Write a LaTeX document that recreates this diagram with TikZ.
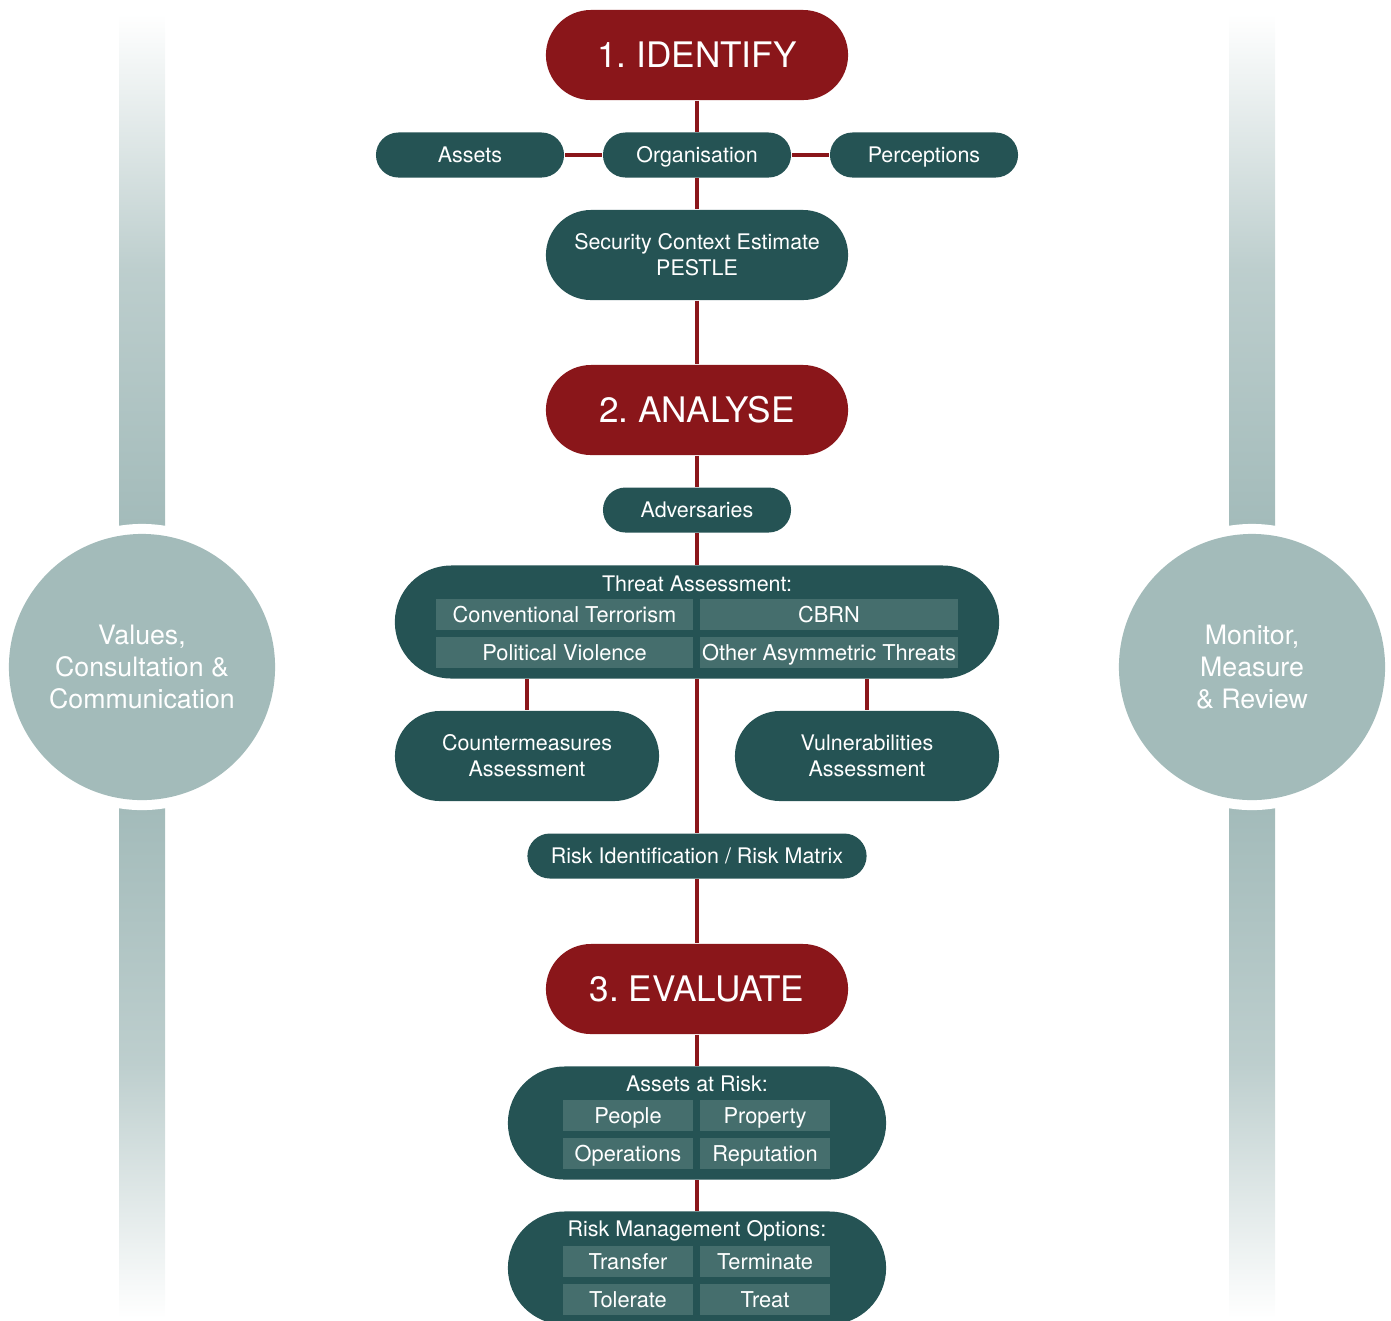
\documentclass[tikz,border=0pt]{standalone}
\usepackage{fontspec}
\setmainfont{TeX Gyre Heros}
\usetikzlibrary{backgrounds}

\definecolor{riskred}{HTML}{8A161A}
\definecolor{riskteal}{HTML}{255354}
\definecolor{riskcell}{HTML}{456E6D}
\definecolor{riskgrey}{HTML}{A3BBBA}

\begin{document}
\frenchspacing
\begin{tikzpicture}[x=0.01cm, y=-0.01cm,
	stagebox/.style={fill=riskred, text=white, rounded corners=0.45cm, minimum width=3.02cm, minimum height=0.9cm, inner sep=0pt, text height=7.2pt, text depth=0pt, font=\fontsize{10}{12}\selectfont},
	itembox/.style={fill=riskteal, text=white, rounded corners=0.225cm, minimum width=1.88cm, minimum height=0.45cm, inner sep=0pt, text height=4.4pt, text depth=0pt, font=\fontsize{6.1}{7.4}\selectfont},
	bigbox/.style={fill=riskteal, text=white, rounded corners=0.45cm, minimum height=0.9cm, inner sep=0pt, align=center, font=\fontsize{6.1}{7.4}\selectfont},
	groupbox/.style={fill=riskteal, rounded corners=0.565cm, minimum height=1.13cm, inner sep=0pt},
	boxtitle/.style={text=white, inner sep=0pt, text height=4.4pt, text depth=0pt, font=\fontsize{6.1}{7.4}\selectfont},
	subcell/.style={fill=riskcell, text=white, inner sep=0pt, minimum height=0.31cm, text height=4.4pt, text depth=0pt, font=\fontsize{6.2}{7.4}\selectfont},
	redlink/.style={draw=riskred, line width=1.2pt},
	sidecircle/.style={circle, fill=riskgrey, text=white, minimum size=2.66cm, inner sep=0pt, align=center, font=\fontsize{7.6}{9.1}\selectfont}
]

	\useasboundingbox (0,0) rectangle (1391,1320);

	% ---- side bars

	\foreach \x in {142,1252} {
		\shade[top color=white, bottom color=riskgrey, middle color=riskgrey!72] (\x-23,14) rectangle (\x+23,525);
		\shade[top color=riskgrey, bottom color=white, middle color=riskgrey!72] (\x-23,808) rectangle (\x+23,1318);
		\fill[white] (\x,667) circle (1.43cm);
	}

	\node[sidecircle] (values) at (142,667) {Values,\\Consultation \&\\Communication};
	\node[sidecircle] (monitor) at (1252,667) {Monitor,\\Measure\\\& Review};

	% ---- identify

	\node[stagebox] (identify) at (697,55) {1. IDENTIFY};
	\node[itembox] (assets) at (470,155) {Assets};
	\node[itembox] (org) at (697,155) {Organisation};
	\node[itembox] (percep) at (924,155) {Perceptions};
	\node[bigbox, minimum width=3.02cm] (pestle) at (697,255) {Security Context Estimate\\PESTLE};

	% ---- analyse

	\node[stagebox] (analyse) at (697,410) {2. ANALYSE};
	\node[itembox] (advers) at (697,510) {Adversaries};

	\node[groupbox, minimum width=6.04cm] (threat) at (697,622) {};
	\node[boxtitle] (threattitle) at (697,584) {Threat Assessment:};
	\node[subcell, minimum width=2.57cm] (tconv) at (564.5,614.5) {Conventional Terrorism};
	\node[subcell, minimum width=2.57cm] (tcbrn) at (829,614.5) {CBRN};
	\node[subcell, minimum width=2.57cm] (tpol) at (564.5,652.5) {Political Violence};
	\node[subcell, minimum width=2.57cm] (tasym) at (829,652.5) {Other Asymmetric Threats};

	\node[bigbox, minimum width=2.64cm] (counter) at (527,756) {Countermeasures\\Assessment};
	\node[bigbox, minimum width=2.64cm] (vuln) at (867,756) {Vulnerabilities\\Assessment};
	\node[itembox, minimum width=3.39cm] (riskid) at (697,856) {Risk Identification / Risk Matrix};

	% ---- evaluate

	\node[stagebox] (evaluate) at (697,989) {3. EVALUATE};

	\node[groupbox, minimum width=3.78cm] (atrisk) at (697,1123) {};
	\node[boxtitle] (atrisktitle) at (697,1084) {Assets at Risk:};
	\node[subcell, minimum width=1.29cm] (people) at (628,1115.5) {People};
	\node[subcell, minimum width=1.29cm] (property) at (765,1115.5) {Property};
	\node[subcell, minimum width=1.29cm] (operations) at (628,1153.5) {Operations};
	\node[subcell, minimum width=1.29cm] (reputation) at (765,1153.5) {Reputation};

	\node[groupbox, minimum width=3.78cm] (options) at (697,1268) {};
	\node[boxtitle] (optionstitle) at (697,1229) {Risk Management Options:};
	\node[subcell, minimum width=1.29cm] (transfer) at (628,1261.5) {Transfer};
	\node[subcell, minimum width=1.29cm] (terminate) at (765,1261.5) {Terminate};
	\node[subcell, minimum width=1.29cm] (tolerate) at (628,1299.5) {Tolerate};
	\node[subcell, minimum width=1.29cm] (treat) at (765,1299.5) {Treat};

	% ---- links

	\begin{scope}[on background layer]
		\draw[redlink] (identify) -- (org) -- (pestle) -- (analyse) -- (advers) -- (threat)
			-- (riskid) -- (evaluate) -- (atrisk) -- (options);
		\draw[redlink] (assets) -- (org) -- (percep);
		\draw[redlink] (counter |- threat.south) -- (counter);
		\draw[redlink] (vuln |- threat.south) -- (vuln);
	\end{scope}

\end{tikzpicture}
\end{document}
